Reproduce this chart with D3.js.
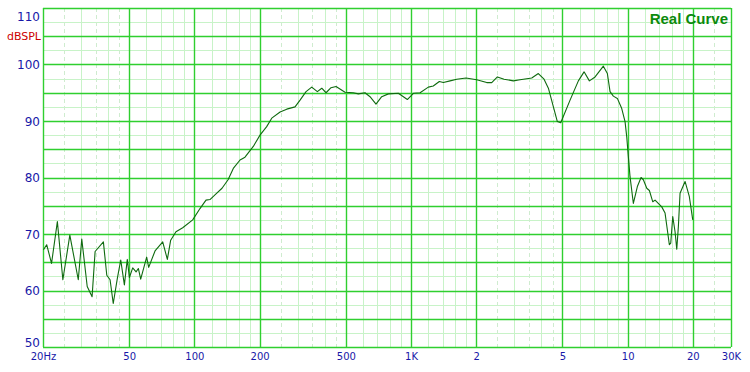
<!DOCTYPE html>
<html>
<head>
<meta charset="utf-8">
<script src="https://cdn.jsdelivr.net/npm/d3@7"></script>
<style>
  html, body { margin: 0; padding: 0; background: #ffffff; }
  svg { display: block; }
</style>
</head>
<body>
<svg id="chart" width="750" height="372"></svg>
<script>
// ---- data ----
const freqHz = [20.1, 20.8, 21.9, 23.3, 24.7, 26.6, 29.1, 30.2, 32.0, 33.7, 34.8, 38.0, 39.4, 40.8, 42.2, 44.1, 45.7, 47.5, 49.0, 50.1,
  51.9, 53.8, 55.1, 56.5, 60.2, 61.5, 65.8, 71.4, 75.0, 77.7, 82.2, 88.3, 98.2, 106.1, 113.1, 118.0, 125.8, 134.1, 143.0, 151.2,
  162.4, 171.2, 187.0, 200.8, 215.6, 227.5, 248.6, 266.8, 291.4, 307.4, 327.6, 348.0, 369.4, 387.2, 405.2, 427.2, 450.6, 495.8, 541.4, 571.0,
  613.2, 646.6, 689.2, 732.2, 785.8, 874, 961.6, 1025, 1101, 1202, 1267, 1351, 1410, 1514, 1626, 1794, 2010, 2236, 2358, 2504,
  2688, 2968, 3186, 3608, 3870, 4112, 4306, 4736, 4910, 5422, 5922, 6292, 6658, 7074, 7724, 8060, 8294, 8590, 8964, 9392,
  9728, 9904, 10074, 10260, 10626, 11088, 11532, 11818, 12254, 12598, 13062, 13384, 14370, 14884, 15252, 15578, 15814, 16152, 16552, 16856,
  17146, 17456, 18408, 19268, 19976];
const splDb = [67.2, 68.1, 64.8, 72.2, 61.9, 69.8, 61.9, 69.1, 60.7, 58.9, 66.9, 68.6, 62.7, 61.9, 57.7, 62.2, 65.4, 61.0, 65.5, 62.3,
  64.0, 63.3, 63.9, 62.0, 65.9, 64.1, 67.0, 68.6, 65.5, 68.9, 70.4, 71.1, 72.5, 74.5, 76.0, 76.1, 77.1, 78.1, 79.6, 81.6,
  83.1, 83.6, 85.5, 87.5, 89.0, 90.5, 91.6, 92.1, 92.5, 93.7, 95.2, 96.0, 95.2, 95.8, 95.0, 95.9, 96.1, 95.1, 95.0, 94.8,
  95.0, 94.3, 93.0, 94.3, 94.8, 94.9, 93.8, 94.9, 95.0, 96.0, 96.2, 97.0, 96.8, 97.1, 97.4, 97.6, 97.3, 96.8, 96.8, 97.8,
  97.4, 97.1, 97.3, 97.6, 98.4, 97.4, 95.8, 89.9, 89.7, 93.7, 97.1, 98.7, 97.1, 97.8, 99.7, 98.4, 95.2, 94.4, 94.0, 92.2,
  89.9, 87.2, 83.7, 80.1, 75.4, 78.4, 80.0, 79.6, 78.1, 77.7, 75.7, 76.0, 74.8, 73.7, 70.7, 68.1, 68.4, 73.1, 70.4, 67.3,
  71.3, 77.2, 79.3, 76.6, 72.5];

const yTickValues = [50, 60, 70, 80, 90, 100, 110];
const yMajorGrid = [55, 65, 75, 85, 95, 105];
const yMinorGrid = [52.5, 57.5, 62.5, 67.5, 72.5, 77.5, 82.5, 87.5, 92.5, 97.5, 102.5, 107.5];
const xTickValues = [20, 50, 100, 200, 500, 1000, 2000, 5000, 10000, 20000, 30000];
const xTickLabels = ["20Hz", "50", "100", "200", "500", "1K", "2", "5", "10", "20", "30K"];
const xMajorGrid = [50, 100, 200, 500, 1000, 2000, 5000, 10000, 20000];
const xMinorGrid = [30, 40, 60, 70, 80, 90, 120, 140, 160, 180, 300, 400, 600, 700, 800, 900,
  1200, 1400, 1600, 1800, 3000, 4000, 6000, 7000, 8000, 9000, 12000, 14000, 16000, 18000];
const xDashedGrid = [25, 35, 45, 250, 350, 450, 2500, 3500, 4500, 25000];
const unitLabel = "dBSPL";
const titleLabel = "Real Curve";

// ---- drawing ----
const svg = d3.select("#chart");
const L = 43, R = 731, T = 8, B = 347;
const x = d3.scaleLog().domain([20, 30000]).range([L, R]);
const y = d3.scaleLinear().domain([50, 110]).range([B, T]);

const bright = "#2fcf2f", light = "#c8f3c8", dashCol = "#cfeccf";

const g = svg.append("g");
// minor horizontal
g.selectAll(".hmin").data(yMinorGrid).join("line")
  .attr("x1", L).attr("x2", R).attr("y1", d => Math.round(y(d)) + 0.5).attr("y2", d => Math.round(y(d)) + 0.5)
  .attr("stroke", light).attr("stroke-width", 1);
// minor vertical
g.selectAll(".vmin").data(xMinorGrid).join("line")
  .attr("y1", T).attr("y2", B).attr("x1", d => Math.round(x(d)) + 0.5).attr("x2", d => Math.round(x(d)) + 0.5)
  .attr("stroke", light).attr("stroke-width", 1);
g.selectAll(".vdash").data(xDashedGrid).join("line")
  .attr("y1", T).attr("y2", B).attr("x1", d => Math.round(x(d)) + 0.5).attr("x2", d => Math.round(x(d)) + 0.5)
  .attr("stroke", dashCol).attr("stroke-width", 1).attr("stroke-dasharray", "4,3");
// major
g.selectAll(".hmaj").data(yMajorGrid.concat(yTickValues)).join("line")
  .attr("x1", L).attr("x2", R).attr("y1", d => Math.round(y(d)) + 0.5).attr("y2", d => Math.round(y(d)) + 0.5)
  .attr("stroke", bright).attr("stroke-width", 1.4);
g.selectAll(".vmaj").data(xMajorGrid.concat([20, 30000])).join("line")
  .attr("y1", T).attr("y2", B).attr("x1", d => Math.round(x(d)) + 0.5).attr("x2", d => Math.round(x(d)) + 0.5)
  .attr("stroke", bright).attr("stroke-width", 1.4);

// axes labels via d3 axes (no lines)
const yAxis = svg.append("g").attr("transform", `translate(${L - 3},0)`)
  .call(d3.axisLeft(y).tickValues(yTickValues).tickSize(0).tickPadding(0).tickFormat(d3.format("d")));
yAxis.select(".domain").remove();
yAxis.selectAll("text")
  .attr("fill", "#1818a8").attr("font-family", "DejaVu Sans, sans-serif").attr("font-size", "12px")
  .attr("dy", d => d === 110 ? "1.0em" : (d === 50 ? "-0.05em" : "0.36em"));

const xAxis = svg.append("g").attr("transform", `translate(0,${B})`)
  .call(d3.axisBottom(x).tickValues(xTickValues).tickSize(0).tickPadding(0)
    .tickFormat((d, i) => xTickLabels[i]));
xAxis.select(".domain").remove();
xAxis.selectAll("text")
  .attr("fill", "#1818a8").attr("font-family", "DejaVu Sans, sans-serif").attr("font-size", "10px")
  .attr("dy", null).attr("y", 13);

svg.append("text").attr("x", L - 2).attr("y", 40).attr("text-anchor", "end")
  .attr("fill", "#cc0000").attr("font-family", "DejaVu Sans, sans-serif").attr("font-size", "11px")
  .text(unitLabel);

svg.append("text").attr("x", 728).attr("y", 24).attr("text-anchor", "end")
  .attr("fill", "#0c8a0c").attr("font-family", "Liberation Sans, Arial, sans-serif")
  .attr("font-weight", "bold").attr("font-size", "15px")
  .text(titleLabel);

// curve
const pts = freqHz.map((f, i) => [f, splDb[i]]);
const line = d3.line().x(d => x(d[0])).y(d => y(d[1]));
svg.append("path").datum(pts).attr("d", line)
  .attr("fill", "none").attr("stroke", "#0f6a0f").attr("stroke-width", 1.1)
  .attr("stroke-linejoin", "round");
</script>
</body>
</html>
